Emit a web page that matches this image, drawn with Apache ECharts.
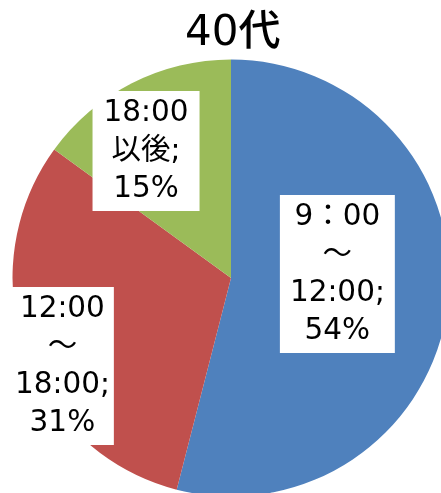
<!DOCTYPE html>
<html><head><meta charset="utf-8">
<script src="https://cdn.jsdelivr.net/npm/echarts@6/dist/echarts.min.js"></script>
<style>html,body{margin:0;padding:0;background:#fff}#c{width:441px;height:493px}</style>
</head><body><div id="c"></div>
<script>
const title = '40代';
const categories = ['9：00\n～\n12:00', '12:00\n～\n18:00', '18:00\n以後'];
const values = [54, 31, 15];
const colors = ['#4F81BD', '#C0504D', '#9BBB59'];
const labelPadding = [[3, 10, 3, 10], [3, 4, 3, 4], [3, 11, 3, 11]];
const labelShift = [[-5, -18], [-63, 50], [-34, -27]];

const chart = echarts.init(document.getElementById('c'));
chart.setOption({
  animation: false,
  title: {
    text: title, left: 180, top: 8,
    textStyle: { fontSize: 42, fontWeight: 500, color: '#000', fontFamily: 'DejaVu Sans, Noto Sans CJK JP' }
  },
  series: [{
    type: 'pie',
    center: [231, 278],
    radius: 218.5,
    startAngle: 90,
    clockwise: true,
    avoidLabelOverlap: false,
    itemStyle: { borderWidth: 0 },
    label: {
      show: true, position: 'inside',
      formatter: p => p.name + ';\n' + p.value + '%',
      fontSize: 29.5, lineHeight: 38, color: '#000',
      fontFamily: 'DejaVu Sans, Noto Sans CJK JP',
      backgroundColor: '#fff'
    },
    labelLine: { show: false },
    labelLayout: p => ({ dx: labelShift[p.dataIndex][0], dy: labelShift[p.dataIndex][1] }),
    data: categories.map((c, i) => ({
      name: c, value: values[i],
      itemStyle: { color: colors[i] },
      label: { padding: labelPadding[i] }
    }))
  }]
});
</script></body></html>
